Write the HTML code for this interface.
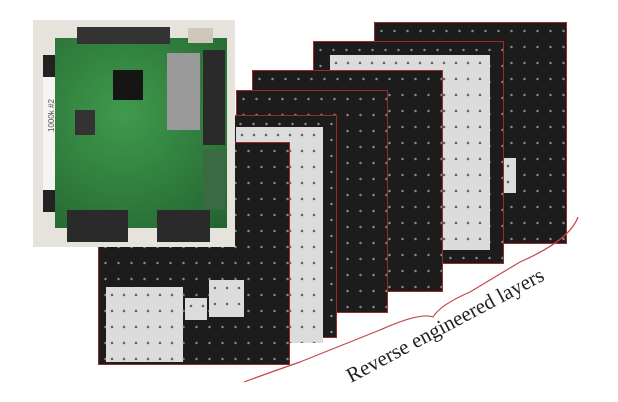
<!DOCTYPE html>
<html><head><meta charset="utf-8"><style>
body{margin:0;width:618px;height:402px;background:#fff;position:relative;overflow:hidden;font-family:"Liberation Serif",serif}
.a{position:absolute}
.L{position:absolute;border:1px solid #9b2a2a;box-sizing:border-box;
background-image:radial-gradient(circle,#888 1px,transparent 1.5px);background-size:13px 16px;background-color:#1c1c1c}
.p{position:absolute;background:#dcdcdc;background-image:radial-gradient(circle,#666 1.1px,transparent 1.5px);background-size:12px 16px}
</style></head><body>
<div class="L" style="left:374px;top:22px;width:193px;height:222px"></div>
<div class="p" style="left:502px;top:158px;width:14px;height:35px"></div>
<div class="L" style="left:313px;top:41px;width:191px;height:223px"></div>
<div class="p" style="left:330px;top:55px;width:160px;height:195px"></div>
<div class="L" style="left:252px;top:70px;width:191px;height:222px"></div>
<div class="L" style="left:236px;top:90px;width:152px;height:223px"></div>
<div class="L" style="left:220px;top:115px;width:117px;height:223px"></div>
<div class="p" style="left:236px;top:127px;width:87px;height:216px"></div>
<div class="L" style="left:98px;top:142px;width:192px;height:223px"></div>
<div class="p" style="left:106px;top:287px;width:77px;height:75px"></div>
<div class="p" style="left:209px;top:280px;width:35px;height:37px"></div>
<div class="p" style="left:185px;top:298px;width:22px;height:22px"></div>
<!-- photo -->
<div class="a" style="left:33px;top:20px;width:202px;height:227px;background:#e6e2dc"></div>
<div class="a" style="left:43px;top:55px;width:17px;height:150px;background:#f4f4f2"></div>
<div class="a" style="left:43px;top:55px;width:17px;height:22px;background:#222"></div>
<div class="a" style="left:43px;top:190px;width:17px;height:22px;background:#222"></div>
<div class="a" style="left:55px;top:38px;width:172px;height:190px;background:#2f7a3c;background-image:radial-gradient(circle at 40% 40%,#3f9a4c,#236330)"></div>
<div class="a" style="left:77px;top:27px;width:93px;height:17px;background:#333"></div>
<div class="a" style="left:188px;top:28px;width:25px;height:15px;background:#cfc6bc"></div>
<div class="a" style="left:113px;top:70px;width:30px;height:30px;background:#151515"></div>
<div class="a" style="left:167px;top:53px;width:33px;height:77px;background:#9a9a9a"></div>
<div class="a" style="left:203px;top:50px;width:22px;height:95px;background:#2a2a2a"></div>
<div class="a" style="left:203px;top:150px;width:22px;height:60px;background:#3a6a42"></div>
<div class="a" style="left:67px;top:210px;width:61px;height:32px;background:#2a2a2a"></div>
<div class="a" style="left:157px;top:210px;width:53px;height:32px;background:#2a2a2a"></div>
<div class="a" style="left:75px;top:110px;width:20px;height:25px;background:#333"></div>
<div class="a" style="left:44px;top:120px;width:15px;transform:rotate(-90deg);font:8px 'Liberation Sans',sans-serif;color:#555;white-space:nowrap">1000k #2</div>
<!-- brace -->
<svg class="a" style="left:0;top:0" width="618" height="402">
<path d="M578 217 Q570 240 520 262 L470 292 Q440 305 433 317 Q420 312 380 330 L300 362 Q260 376 244 382" fill="none" stroke="#c0484a" stroke-width="1.2"/>
<text x="0" y="0" font-family="Liberation Serif,serif" font-size="21" fill="#222" transform="translate(351,383) rotate(-28)">Reverse engineered layers</text>
</svg>
</body></html>
